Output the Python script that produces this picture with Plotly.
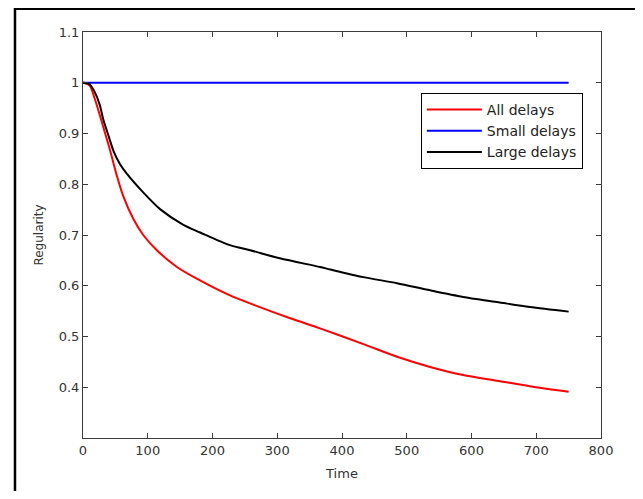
import plotly.graph_objects as go

# ---- data ----
t_all = [0, 10, 18, 26, 34, 42, 52, 62, 78, 93, 114, 145, 180, 227, 273, 320, 366, 433, 485, 536, 587, 639,
         690, 750]
v_all = [1.0, 0.995, 0.969, 0.936, 0.901, 0.866, 0.818, 0.777, 0.731, 0.700, 0.670, 0.637, 0.611, 0.581,
         0.558, 0.536, 0.516, 0.485, 0.460, 0.440, 0.424, 0.413, 0.402, 0.391]

t_small = [0, 750]
v_small = [1.0, 1.0]

t_large = [0, 10, 18, 26, 31, 39, 47, 57, 67, 93, 119, 155, 181, 227, 258, 304, 366, 382, 433, 485, 536, 587,
           639, 690, 750]
v_large = [1.0, 0.997, 0.982, 0.956, 0.929, 0.897, 0.866, 0.840, 0.822, 0.784, 0.751, 0.720, 0.705, 0.680,
           0.670, 0.654, 0.637, 0.632, 0.617, 0.605, 0.591, 0.578, 0.568, 0.558, 0.549]

series_names = ["All delays", "Small delays", "Large delays"]
series_colors = ["#ff0000", "#0000ff", "#000000"]

x_ticks = [0, 100, 200, 300, 400, 500, 600, 700, 800]
y_ticks = [0.4, 0.5, 0.6, 0.7, 0.8, 0.9, 1.0, 1.1]
y_tick_text = ["0.4", "0.5", "0.6", "0.7", "0.8", "0.9", "1", "1.1"]

FONT = "DejaVu Sans"
AX = "#3a3a3a"

fig = go.Figure()
for (tx, vy), name, col in zip([(t_all, v_all), (t_small, v_small), (t_large, v_large)],
                               series_names, series_colors):
    fig.add_trace(go.Scatter(x=tx, y=vy, mode="lines", name=name,
                             line=dict(color=col, width=2, shape="spline", smoothing=0.8)))

axis_common = dict(showgrid=False, zeroline=False, showline=True, linecolor=AX, linewidth=1,
                   mirror="ticks", ticks="inside", ticklen=5, tickcolor=AX, tickwidth=1,
                   tickfont=dict(family=FONT, size=13, color="#333333"))

fig.update_xaxes(range=[0, 800], tickvals=x_ticks, ticktext=[str(v) for v in x_ticks],
                 title=dict(text="Time", font=dict(family=FONT, size=13, color="#333333"), standoff=12),
                 **axis_common)
fig.update_yaxes(range=[0.3, 1.1], tickvals=y_ticks, ticktext=y_tick_text,
                 title=dict(text="Regularity", font=dict(family=FONT, size=12, color="#333333"), standoff=12),
                 **axis_common)

# the page body adds an 8px margin, so the figure is sized/offset to compensate
fig.update_layout(
    width=635, height=483,
    margin=dict(l=75, r=42, t=24, b=53, autoexpand=False),
    paper_bgcolor="white", plot_bgcolor="white",
    showlegend=True,
    legend=dict(x=0.965, y=0.85, xanchor="right", yanchor="top",
                bordercolor="#000000", borderwidth=1, bgcolor="white",
                font=dict(family=FONT, size=14, color="#222222"),
                tracegroupgap=0, itemwidth=55),
    shapes=[dict(type="rect", xref="paper", yref="paper",
                 x0=-0.1313, x1=1.0753, y0=-0.25, y1=1.057,
                 line=dict(color="black", width=2.5), fillcolor="rgba(0,0,0,0)", layer="below")],
)

fig.write_html("out.html")
